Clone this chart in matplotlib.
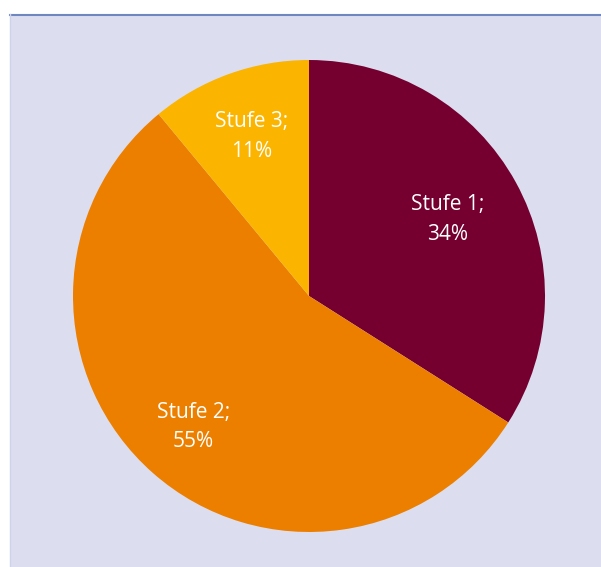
import numpy as np
import matplotlib.pyplot as plt
from matplotlib.patches import Rectangle
from matplotlib.lines import Line2D

stufen = ['Stufe 1', 'Stufe 2', 'Stufe 3']
anteile = [34, 55, 11]
farben = ['#750030', '#ec7f00', '#fbb400']

fig = plt.figure(figsize=(6.01, 5.67), dpi=100)
fig.patch.set_facecolor('white')

# hellblaue Fläche mit blauer Oberkante
W, H = 601, 567
fig.patches.append(Rectangle((10 / W, 0), 1 - 10 / W, (H - 14) / H,
                             transform=fig.transFigure, facecolor='#dcdef0',
                             edgecolor='none', zorder=-2))
fig.lines.append(Line2D([10 / W, 1], [(H - 14.5) / H] * 2, transform=fig.transFigure,
                        color='#6f87c0', linewidth=1.5, zorder=-1))
fig.lines.append(Line2D([10.5 / W] * 2, [0, (H - 14) / H], transform=fig.transFigure,
                        color='#cdd3ea', linewidth=1, zorder=-1))

ax = fig.add_axes([73 / W, (H - 532) / H, 472 / W, 472 / H])
ax.set_facecolor('none')

labels = [f'{s};\n{a}%' for s, a in zip(stufen, anteile)]
wedges, texts = ax.pie(anteile, labels=labels, colors=farben, startangle=90,
                       counterclock=False, labeldistance=1.0,
                       wedgeprops=dict(linewidth=0),
                       textprops=dict(color='white', fontsize=15, family='Open Sans'))

# Abstand der Beschriftungen vom Mittelpunkt je Segment
abstand = [0.67, 0.74, 0.72]
for t, r in zip(texts, abstand):
    x, y = t.get_position()
    t.set_position((x * r, y * r))
    t.set_horizontalalignment('center')
    t.set_verticalalignment('center')
    t.set_linespacing(1.55)

ax.set_xlim(-1, 1)
ax.set_ylim(-1, 1)
ax.set_aspect('equal')
ax.axis('off')

fig.savefig('out.png', dpi=100)
